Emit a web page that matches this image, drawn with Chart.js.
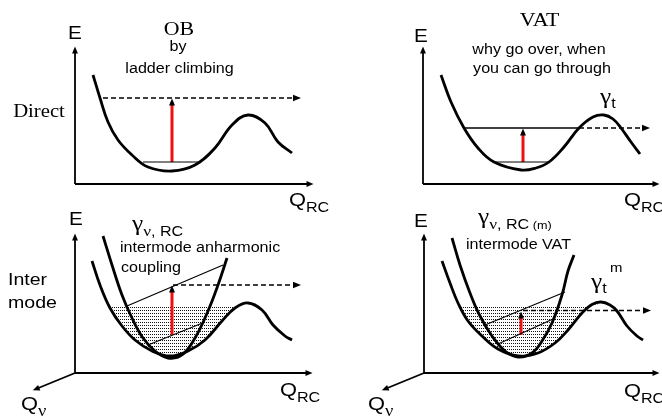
<!DOCTYPE html>
<html>
<head>
<meta charset="utf-8">
<script src="https://cdn.jsdelivr.net/npm/chart.js@4"></script>
<style>
  html, body { margin: 0; padding: 0; background: #fff; }
  #wrap { position: relative; width: 662px; height: 419px; overflow: hidden; }
  #wrap canvas { position: absolute; }
</style>
</head>
<body>
<div id="wrap">
  <canvas id="panel-ob" width="331" height="215" style="left:0;top:0"></canvas>
  <canvas id="panel-vat" width="331" height="215" style="left:331px;top:0"></canvas>
  <canvas id="panel-im" width="331" height="229" style="left:0;top:190px"></canvas>
  <canvas id="panel-imvat" width="331" height="229" style="left:331px;top:190px"></canvas>
</div>
<script>
// Q_RC / E curves (arbitrary units, origin = axes corner)

// OB (direct, ladder climbing)
const obQ = [18, 25, 33, 43, 57, 73, 97, 120, 140, 157, 173, 190, 203, 217];
const obE = [109, 86, 62, 44, 29, 17, 13, 19, 36, 59, 69, 61, 42, 31];
const obGroundQ = [68, 126];
const obGroundE = [22, 22];
const obClimbQ = [97, 97];
const obClimbE = [22, 82];
const obOverQ = [28, 222];
const obOverE = [86, 86];

// VAT (direct tunnelling)
const vatQ = [18, 28, 41, 55, 71, 98, 113, 126, 141, 156, 170, 181, 190, 198, 208, 217];
const vatE = [109, 82, 56, 36, 22, 14, 16, 22, 37, 56, 67, 69, 65, 56, 42, 30];
const vatGroundQ = [71, 126];
const vatGroundE = [22, 22];
const vatClimbQ = [100, 100];
const vatClimbE = [22, 52];
const vatLevelQ = [41, 156];
const vatLevelE = [56, 56];
const vatThroughQ = [156, 223];
const vatThroughE = [56, 56];

// intermode anharmonic coupling
const imRcQ = [17, 25, 35, 47, 60, 77, 95, 113, 130, 147, 160, 173, 187, 198, 210, 217];
const imRcE = [112, 88, 65, 47, 33, 22, 17, 22, 33, 52, 65, 70, 63, 48, 37, 33];
const imModeQ = [28, 37, 47, 57, 68, 80, 93, 107, 120, 133, 143, 152];
const imModeE = [137, 108, 78, 55, 35, 22, 15, 18, 35, 62, 88, 115];
const imUpperQ = [52, 148];
const imUpperE = [67, 108];
const imLowerQ = [73, 130];
const imLowerE = [28, 51];
const imClimbQ = [97, 97];
const imClimbE = [38, 84];
const imOverQ = [98, 222];
const imOverE = [88, 88];
const imFilled = 68;

// intermode VAT
const ivRcQ = [18, 26, 34, 44, 58, 74, 94, 114, 131, 144, 158, 168, 177, 186, 193, 203, 213, 219];
const ivRcE = [112, 90, 70, 52, 37, 24, 17, 20, 30, 43, 60, 68.5, 71, 68, 62, 47, 37, 33];
const ivModeQ = [28, 36, 46, 56, 68, 81, 94, 108, 118, 128, 138, 144, 150];
const ivModeE = [135, 108, 80, 57, 37, 22, 16, 20, 32, 50, 78, 102, 118];
const ivUpperQ = [61, 141];
const ivUpperE = [48, 81];
const ivLowerQ = [74, 129];
const ivLowerE = [29, 54];
const ivClimbQ = [97, 97];
const ivClimbE = [38, 58];
const ivThroughQ = [99, 223];
const ivThroughE = [62.5, 62.5];
const ivFilled = 68;

// axes (corner -> arrow tip)
const axisTopE = [0, 134];
const axisBotE = [0, 136];
const axisNuQ = [0, -39];
const axisNuE = [0, -16];

const SANS = '"Liberation Sans", Arial, sans-serif';
const SERIF = '"Liberation Serif", "Times New Roman", serif';
const STRETCH = 1.15;

// dotted hatch for the filled ladder
const hatchCanvas = document.createElement('canvas');
hatchCanvas.width = 2;
hatchCanvas.height = 3;
const hctx = hatchCanvas.getContext('2d');
hctx.fillStyle = '#111';
hctx.fillRect(0, 0, 1, 1);
const hatchPattern = hctx.createPattern(hatchCanvas, 'repeat');

let pts = (qs, es) => qs.map((q, i) => ({ x: q, y: es[i] }));

let curve = (qs, es) => ({
    data: pts(qs, es), borderColor: '#000', borderWidth: 2.8, tension: 0.4
});

let line = (qs, es, extra) => Object.assign({
    data: pts(qs, es), borderColor: '#000', borderWidth: 1.2, tension: 0
}, extra || {});

let dashArrow = (qs, es) => line(qs, es, { borderDash: [5, 3], borderWidth: 1.3, arrowHead: 8 });
let redArrow = (qs, es) => line(qs, es, { borderColor: '#ee1111', borderWidth: 3, arrowHead: 7 });
let axis = (qs, es) => line(qs, es, { borderWidth: 1.8, arrowHead: 7 });

// ladder hatch: the RC well between its left arm and the barrier top, cut at a level
let hatch = (qs, es, level) => {
    let lo = es.indexOf(Math.min(...es));
    let top = es.slice(lo).indexOf(Math.max(...es.slice(lo))) + lo;
    let start = 0;
    for (let i = 0; i < lo; i++) if (es[i] >= level) start = i;
    return {
        data: pts(qs.slice(start, top + 1), es.slice(start, top + 1).map(e => Math.min(e, level))),
        borderWidth: 0, borderColor: 'rgba(0,0,0,0)',
        backgroundColor: hatchPattern, fill: { value: level },
        tension: 0.4, order: 5
    };
};

// arrow heads at the last point of a dataset
const arrowHeads = {
    id: 'arrowHeads',
    afterDatasetsDraw(chart) {
        let ctx = chart.ctx;
        chart.data.datasets.forEach((ds, i) => {
            if (!ds.arrowHead) return;
            let p = chart.getDatasetMeta(i).data;
            let a = p[p.length - 2], b = p[p.length - 1];
            let ang = Math.atan2(b.y - a.y, b.x - a.x);
            let len = ds.arrowHead, w = len * 0.42;
            ctx.save();
            ctx.translate(b.x, b.y);
            ctx.rotate(ang);
            ctx.beginPath();
            ctx.moveTo(len * 0.5, 0);
            ctx.lineTo(-len * 0.5, -w);
            ctx.lineTo(-len * 0.5, w);
            ctx.closePath();
            ctx.fillStyle = '#000';
            ctx.fill();
            ctx.restore();
        });
    }
};

// text runs placed through the scales
const texts = {
    id: 'texts',
    afterDraw(chart, args, opts) {
        let ctx = chart.ctx;
        let xs = chart.scales.x, ys = chart.scales.y;
        (opts.items || []).forEach(item => {
            let px = xs.getPixelForValue(item.q);
            let py = ys.getPixelForValue(item.e);
            let total = 0;
            item.runs.forEach(r => { ctx.font = r.font; total += ctx.measureText(r.t).width * STRETCH; });
            let x = item.align === 'center' ? px - total / 2 : px;
            item.runs.forEach(r => {
                ctx.save();
                ctx.font = r.font;
                ctx.fillStyle = '#000';
                ctx.textBaseline = 'alphabetic';
                ctx.textAlign = 'left';
                let w = ctx.measureText(r.t).width * STRETCH;
                ctx.translate(x, py + (r.dy || 0));
                ctx.scale(STRETCH, 1);
                ctx.fillText(r.t, 0, 0);
                ctx.restore();
                x += w;
            });
        });
    }
};

let qRc = (q, e) => ({ q, e, runs: [{ t: 'Q', font: '19px ' + SANS }, { t: 'RC', font: '14px ' + SANS, dy: 6 }] });
let qNu = (q, e) => ({ q, e, runs: [{ t: 'Q', font: '19px ' + SANS }, { t: 'ν', font: '16px ' + SERIF, dy: 6 }] });
let eLabel = (q, e) => ({ q, e, align: 'center', runs: [{ t: 'E', font: '18px ' + SANS }] });
let plain = (q, e, t, font, align) => ({ q, e, align, runs: [{ t, font }] });

let makePanel = (id, xMin, xMax, yMin, yMax, datasets, items) => {
    new Chart(document.getElementById(id), {
        type: 'line',
        data: { datasets },
        options: {
            responsive: false,
            devicePixelRatio: 1,
            animation: false,
            layout: { padding: 0 },
            elements: { point: { radius: 0 } },
            scales: {
                x: { type: 'linear', min: xMin, max: xMax, display: false },
                y: { type: 'linear', min: yMin, max: yMax, display: false }
            },
            plugins: { legend: { display: false }, tooltip: { enabled: false }, texts: { items } }
        },
        plugins: [arrowHeads, texts]
    });
};

makePanel('panel-ob', -75, 256, -31, 184, [
    axis([0, 0], axisTopE),
    axis([0, 235], [0, 0]),
    curve(obQ, obE),
    line(obGroundQ, obGroundE),
    dashArrow(obOverQ, obOverE),
    redArrow(obClimbQ, obClimbE)
], [
    eLabel(0, 145),
    plain(104, 149, 'OB', '19px ' + SERIF, 'center'),
    plain(103, 133.5, 'by', '14px ' + SANS, 'center'),
    plain(104.5, 111, 'ladder climbing', '14px ' + SANS, 'center'),
    plain(-36, 67, 'Direct', '18px ' + SERIF, 'center'),
    qRc(214, -22)
]);

makePanel('panel-vat', -92, 239, -31, 184, [
    axis([0, 0], axisTopE),
    axis([0, 233], [0, 0]),
    curve(vatQ, vatE),
    line(vatGroundQ, vatGroundE),
    line(vatLevelQ, vatLevelE, { borderWidth: 1.3 }),
    dashArrow(vatThroughQ, vatThroughE),
    redArrow(vatClimbQ, vatClimbE)
], [
    eLabel(-2, 142),
    plain(116.5, 158, 'VAT', '19px ' + SERIF, 'center'),
    plain(116, 130, 'why go over, when', '14px ' + SANS, 'center'),
    plain(119, 111, 'you can go through', '14px ' + SANS, 'center'),
    { q: 177, e: 81, runs: [{ t: 'γ', font: '22px ' + SERIF }, { t: 't', font: '14px ' + SANS, dy: 5 }] },
    qRc(201, -22)
]);

makePanel('panel-im', -75, 256, -46, 183, [
    axis([0, 0], axisBotE),
    axis([0, 234], [0, 0]),
    axis(axisNuQ, axisNuE),
    curve(imRcQ, imRcE),
    curve(imModeQ, imModeE),
    line(imUpperQ, imUpperE),
    line(imLowerQ, imLowerE),
    dashArrow(imOverQ, imOverE),
    redArrow(imClimbQ, imClimbE),
    hatch(imRcQ, imRcE, imFilled)
], [
    eLabel(1, 148),
    { q: 57, e: 143, runs: [{ t: 'γ', font: '22px ' + SERIF }, { t: 'ν', font: '15px ' + SERIF, dy: 6 }, { t: ', RC', font: '14px ' + SANS, dy: 6 }] },
    plain(45, 121, 'intermode anharmonic', '14px ' + SANS, 'left'),
    plain(46, 101, 'coupling', '14px ' + SANS, 'left'),
    plain(-67, 88, 'Inter', '17px ' + SANS, 'left'),
    plain(-67, 65, 'mode', '17px ' + SANS, 'left'),
    qRc(205, -23),
    qNu(-54, -37)
]);

makePanel('panel-imvat', -93, 238, -46, 183, [
    axis([0, 0], axisBotE),
    axis([0, 232], [0, 0]),
    axis(axisNuQ, axisNuE),
    curve(ivRcQ, ivRcE),
    curve(ivModeQ, ivModeE),
    line(ivUpperQ, ivUpperE),
    line(ivLowerQ, ivLowerE),
    dashArrow(ivThroughQ, ivThroughE),
    redArrow(ivClimbQ, ivClimbE),
    hatch(ivRcQ, ivRcE, ivFilled)
], [
    eLabel(-3, 146),
    { q: 54, e: 150, runs: [{ t: 'γ', font: '22px ' + SERIF }, { t: 'ν', font: '15px ' + SERIF, dy: 6 }, { t: ', RC', font: '14px ' + SANS, dy: 6 }, { t: ' (m)', font: '11px ' + SANS, dy: 6 }] },
    plain(94.5, 124, 'intermode VAT', '14px ' + SANS, 'center'),
    { q: 167, e: 85, runs: [{ t: 'γ', font: '22px ' + SERIF }, { t: 't', font: '14px ' + SANS, dy: 5 }] },
    plain(186, 101, 'm', '13px ' + SANS, 'left'),
    qRc(200, -24),
    qNu(-56, -37)
]);
</script>
</body>
</html>
